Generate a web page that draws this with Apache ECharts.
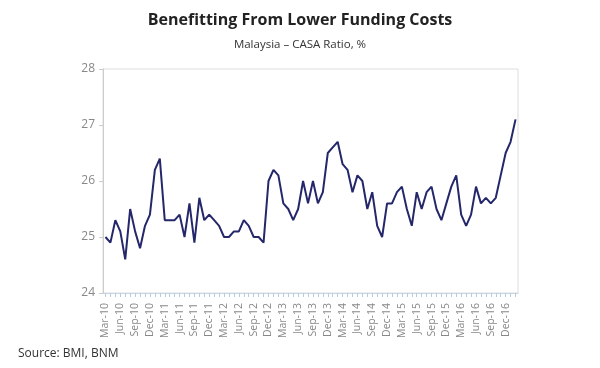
<!DOCTYPE html>
<html>
<head>
<meta charset="utf-8">
<script src="https://cdn.jsdelivr.net/npm/echarts@6/dist/echarts.min.js"></script>
<style>html,body{margin:0;padding:0;background:#fff;}#c{width:600px;height:368px;}</style>
</head>
<body>
<div id="c"></div>
<script>
var monthNames = ['Jan','Feb','Mar','Apr','May','Jun','Jul','Aug','Sep','Oct','Nov','Dec'];
var startYear = 10, startMonth = 2, monthCount = 84;
var categories = [];
for (var i = 0; i < monthCount; i++) {
  var m = startMonth + i;
  categories.push(monthNames[m % 12] + '-' + (startYear + Math.floor(m / 12)));
}
var casaRatio = [
  25.0, 24.9, 25.3, 25.1, 24.6, 25.5, 25.1, 24.8, 25.2, 25.4,
  26.2, 26.4, 25.3, 25.3, 25.3, 25.4, 25.0, 25.6, 24.9, 25.7,
  25.3, 25.4, 25.3, 25.2, 25.0, 25.0, 25.1, 25.1, 25.3, 25.2,
  25.0, 25.0, 24.9, 26.0, 26.2, 26.1, 25.6, 25.5, 25.3, 25.5,
  26.0, 25.6, 26.0, 25.6, 25.8, 26.5, 26.6, 26.7, 26.3, 26.2,
  25.8, 26.1, 26.0, 25.5, 25.8, 25.2, 25.0, 25.6, 25.6, 25.8,
  25.9, 25.5, 25.2, 25.8, 25.5, 25.8, 25.9, 25.5, 25.3, 25.6,
  25.9, 26.1, 25.4, 25.2, 25.4, 25.9, 25.6, 25.7, 25.6, 25.7,
  26.1, 26.5, 26.7, 27.1
];
var yTicks = [24, 25, 26, 27, 28];
var titleText = 'Benefitting From Lower Funding Costs';
var subtitleText = 'Malaysia \u2013 CASA Ratio, %';
var sourceText = 'Source: BMI, BNM';

var chart = echarts.init(document.getElementById('c'), null, {renderer: 'canvas'});
chart.setOption({
  animation: false,
  backgroundColor: '#ffffff',
  title: {
    text: titleText,
    subtext: subtitleText,
    left: 'center',
    top: 7,
    itemGap: 11,
    textStyle: {fontFamily: 'Open Sans', fontWeight: 'bold', fontSize: 16, color: '#222222'},
    subtextStyle: {fontFamily: 'Open Sans', fontSize: 11.5, color: '#333333'}
  },
  graphic: [{
    type: 'text',
    left: 18,
    top: 348,
    style: {text: sourceText, font: '12px "Open Sans"', fill: '#333333'}
  }],
  grid: {
    left: 103, right: 82, top: 69, bottom: 75,
    show: true, borderColor: '#dddddd', borderWidth: 1
  },
  xAxis: {
    type: 'category',
    data: categories,
    boundaryGap: true,
    axisLine: {lineStyle: {color: '#c8d6e6', width: 1}},
    axisTick: {show: true, interval: 0, alignWithLabel: true, length: 4, lineStyle: {color: '#b8cce0'}},
    axisLabel: {interval: 2, rotate: 90, fontFamily: 'Open Sans', fontSize: 10.5, color: '#888888', margin: 10},
    splitLine: {show: false}
  },
  yAxis: {
    type: 'value',
    min: yTicks[0],
    max: yTicks[yTicks.length - 1],
    interval: 1,
    axisLine: {show: true, lineStyle: {color: '#cccccc'}},
    axisTick: {show: true, length: 4, lineStyle: {color: '#cccccc'}},
    axisLabel: {fontFamily: 'Open Sans', fontSize: 12, color: '#888888', margin: 8},
    splitLine: {show: false}
  },
  series: [{
    type: 'line',
    data: casaRatio,
    showSymbol: false,
    symbol: 'none',
    lineStyle: {color: '#24276a', width: 2},
    itemStyle: {color: '#24276a'}
  }]
});
</script>
</body>
</html>
